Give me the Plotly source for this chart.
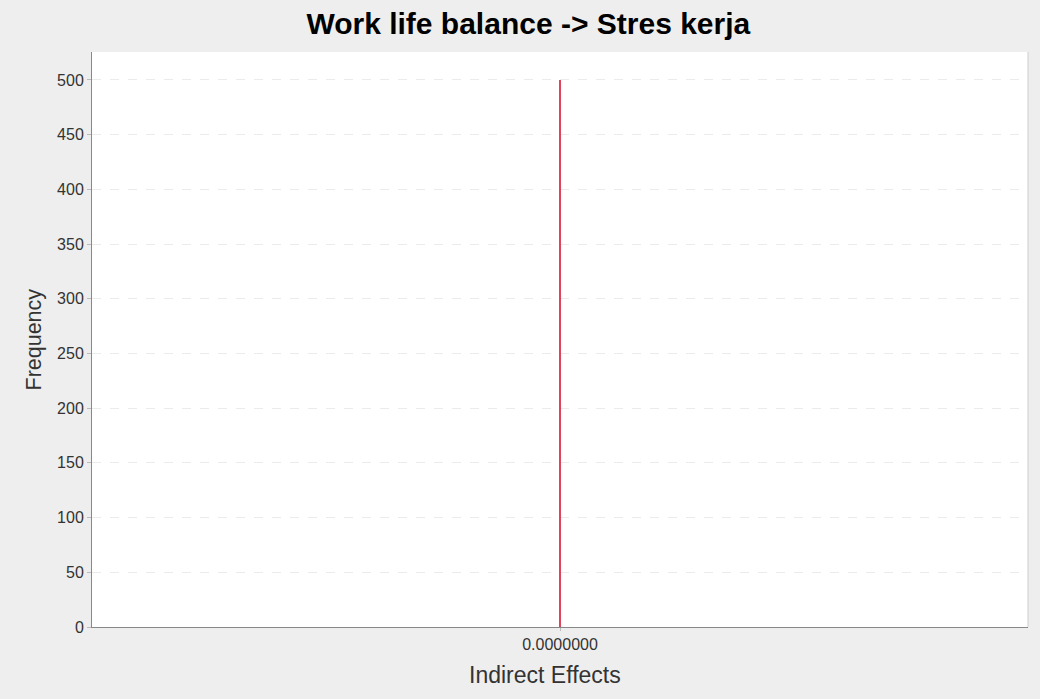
import plotly.graph_objects as go

bin_centers = [0.0]
frequencies = [500]
y_ticks = [0, 50, 100, 150, 200, 250, 300, 350, 400, 450, 500]
x_tick_vals = [0.0]
x_tick_text = ["0.0000000"]

FONT = "Liberation Sans, Arial, sans-serif"

fig = go.Figure()
fig.add_trace(go.Bar(
    x=bin_centers, y=frequencies, width=0.0022,
    marker=dict(color="#e2435c", line=dict(width=0)),
    showlegend=False,
))

fig.update_layout(
    width=1040, height=699,
    paper_bgcolor="#eeeeee", plot_bgcolor="#ffffff",
    margin=dict(l=92, r=12, t=52, b=72),
    title=dict(text="<b>Work life balance -> Stres kerja</b>", x=0.508, xanchor="center",
               y=0.967, yanchor="middle",
               font=dict(family=FONT, size=30, color="#000000")),
    font=dict(family=FONT, size=16, color="#333333"),
    bargap=0,
)
fig.update_xaxes(
    range=[-1, 1], tickvals=x_tick_vals, ticktext=x_tick_text,
    showgrid=False, zeroline=False,
    showline=True, linecolor="#888888", linewidth=1,
    ticks="outside", ticklen=3, tickcolor="#bbbbbb",
    tickfont=dict(family=FONT, size=16, color="#333333"),
)
fig.update_yaxes(
    range=[0, 525.5], tickvals=y_ticks,
    showgrid=True, gridcolor="#ebebeb", griddash="dash", gridwidth=1,
    zeroline=False,
    showline=True, linecolor="#888888", linewidth=1,
    ticks="outside", ticklen=4, tickcolor="#bbbbbb",
    tickfont=dict(family=FONT, size=16, color="#333333"),
)
fig.add_annotation(text="Indirect Effects", xref="paper", yref="paper",
                   x=(545 - 92) / 936, y=-(675 - 627) / 575,
                   xanchor="center", yanchor="middle", showarrow=False,
                   font=dict(family=FONT, size=23, color="#333333"))
fig.add_annotation(text="Frequency", xref="paper", yref="paper",
                   x=-(92 - 33) / 936, y=0.5, textangle=-90,
                   xanchor="center", yanchor="middle", showarrow=False,
                   font=dict(family=FONT, size=21.5, color="#333333"))
fig.add_shape(type="line", xref="paper", yref="paper", x0=1, x1=1, y0=0, y1=1,
              line=dict(color="#cccccc", width=1))

fig.write_html("out.html", config={"displayModeBar": False},
               post_script="document.body.style.margin='0';document.body.style.background='#eeeeee';")
